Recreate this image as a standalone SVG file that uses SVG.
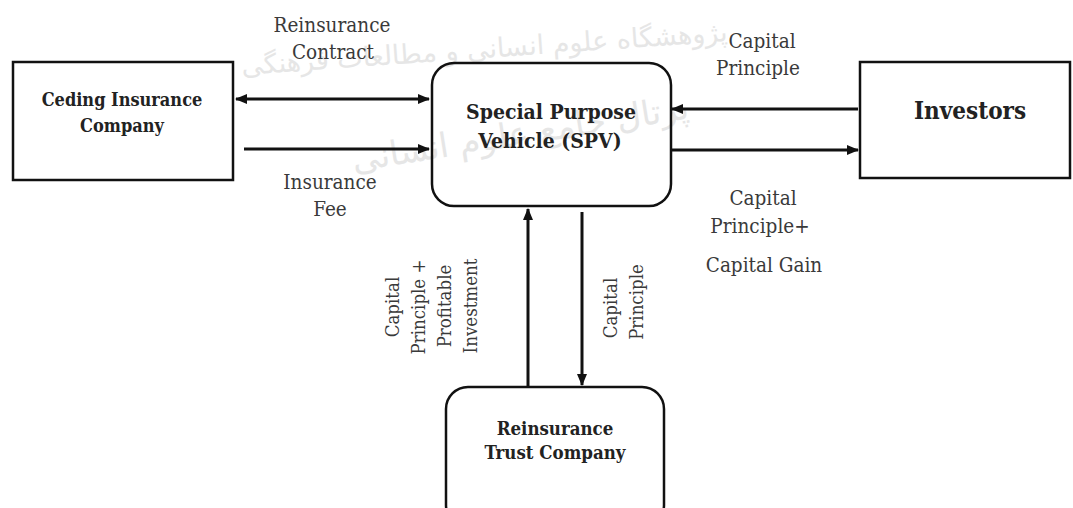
<svg xmlns="http://www.w3.org/2000/svg" width="1073" height="508" viewBox="0 0 1073 508">
<defs>
<marker id="ah" markerWidth="12" markerHeight="10" refX="11" refY="5" orient="auto-start-reverse" markerUnits="userSpaceOnUse"><path d="M0,0 L12,5 L0,10 z" fill="#111"/></marker>
</defs>
<style>
.box{fill:none;stroke:#111;stroke-width:2.5}
.bt{font-family:"DejaVu Serif Condensed","DejaVu Serif",serif;font-stretch:condensed;font-weight:bold;fill:#222;text-anchor:middle}
.lb{font-family:"DejaVu Serif Condensed","DejaVu Serif",serif;font-stretch:condensed;fill:#3a3a3a;text-anchor:middle;font-size:20.5px}
.rl{font-family:"DejaVu Serif Condensed","DejaVu Serif",serif;font-stretch:condensed;fill:#3a3a3a;text-anchor:middle;font-size:18.5px}
.cn{stroke:#111;stroke-width:3;fill:none}
.wm{font-family:"DejaVu Sans",sans-serif;fill:#e6e6e6;text-anchor:middle}
</style>
<rect width="1073" height="508" fill="#fff"/>
<g id="watermark">
<text class="wm" font-size="27" transform="translate(485,58) rotate(-4)">پژوهشگاه علوم انسانی و مطالعات فرهنگی</text>
<text class="wm" font-size="34" transform="translate(522,145) rotate(-9)">پرتال جامع علوم انسانی</text>
</g>
<g id="connectors">
<line class="cn" x1="236" y1="99" x2="429" y2="99" marker-start="url(#ah)" marker-end="url(#ah)"/>
<line class="cn" x1="244" y1="149" x2="429" y2="149" marker-end="url(#ah)"/>
<line class="cn" x1="858" y1="109" x2="672" y2="109" marker-end="url(#ah)"/>
<line class="cn" x1="672" y1="150" x2="858" y2="150" marker-end="url(#ah)"/>
<line class="cn" x1="528" y1="386" x2="528" y2="209" marker-end="url(#ah)"/>
<line class="cn" x1="582" y1="212" x2="582" y2="385" marker-end="url(#ah)"/>
</g>
<g id="labels">
<text class="lb" x="332" y="32">Reinsurance</text>
<text class="lb" x="333" y="59">Contract</text>
<text class="lb" x="330" y="189">Insurance</text>
<text class="lb" x="330" y="216">Fee</text>
<text class="lb" x="762" y="48">Capital</text>
<text class="lb" x="758" y="75">Principle</text>
<text class="lb" x="763" y="205">Capital</text>
<text class="lb" x="760" y="233">Principle+</text>
<text class="lb" x="764" y="272">Capital  Gain</text>
<text class="rl" transform="translate(399,307) rotate(-90)">Capital</text>
<text class="rl" transform="translate(425,307) rotate(-90)">Principle +</text>
<text class="rl" transform="translate(451,306) rotate(-90)">Profitable</text>
<text class="rl" transform="translate(477,306) rotate(-90)">Investment</text>
<text class="rl" transform="translate(617,308) rotate(-90)">Capital</text>
<text class="rl" transform="translate(643,302) rotate(-90)">Principle</text>
</g>
<g id="ceding">
<rect class="box" x="13" y="62" width="220" height="118"/>
<text class="bt" font-size="18" x="122" y="106">Ceding Insurance</text>
<text class="bt" font-size="18" x="122" y="132">Company</text>
</g>
<g id="spv">
<rect class="box" x="432" y="63" width="239" height="143" rx="22"/>
<text class="bt" font-size="21" x="551" y="119">Special Purpose</text>
<text class="bt" font-size="21" x="550" y="148">Vehicle (SPV)</text>
</g>
<g id="investors">
<rect class="box" x="860" y="62" width="210" height="116"/>
<text class="bt" font-size="24" x="970" y="119">Investors</text>
</g>
<g id="trust">
<rect class="box" x="446" y="387" width="218" height="140" rx="22"/>
<text class="bt" font-size="18.5" x="555" y="435">Reinsurance</text>
<text class="bt" font-size="18.5" x="555" y="459">Trust  Company</text>
</g>
</svg>
